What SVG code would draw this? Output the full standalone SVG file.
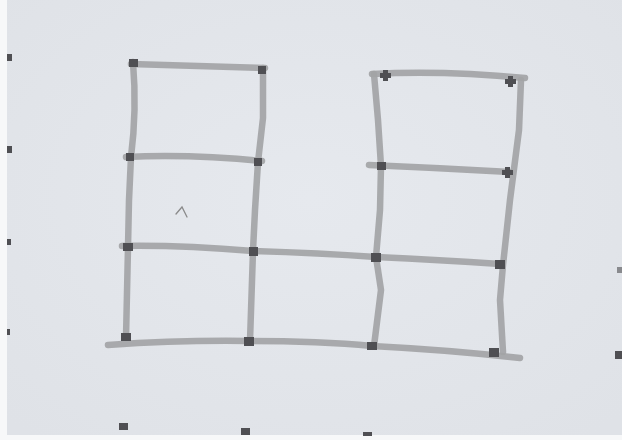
<svg xmlns="http://www.w3.org/2000/svg" width="622" height="440" viewBox="0 0 622 440">
  <defs>
    <style>
      .pen{fill:none;stroke:#a3a4a6;stroke-width:6.5;stroke-linecap:round;stroke-linejoin:round;opacity:0.92}
      .dot{fill:#505052}
      .mark{fill:none;stroke:#8a8a8a;stroke-width:1.3;stroke-linecap:round}
    </style>
    <filter id="soft" x="-20%" y="-20%" width="140%" height="140%">
      <feGaussianBlur stdDeviation="0.6"/>
    </filter>
    <radialGradient id="bg" cx="0.5" cy="0.45" r="0.7">
      <stop offset="0" stop-color="#e6e9ee"/>
      <stop offset="1" stop-color="#dfe2e7"/>
    </radialGradient>
  </defs>
  <rect width="622" height="440" fill="url(#bg)"/>
  <rect x="0" y="0" width="7" height="440" fill="#f7f8f9"/>
  <rect x="0" y="435" width="622" height="5" fill="#f7f8f9"/>

  <g id="connectors" filter="url(#soft)">
    <path class="pen" d="M131,64 Q200,66 265,68"/>
    <path class="pen" d="M133,62 Q137,110 131,157 L129,200 L128,247 L126,338"/>
    <path class="pen" d="M263,68 L263,118 L258,162 L255,210 L253,251 L250,341"/>
    <path class="pen" d="M126,157 Q190,154 262,161"/>
    <path class="pen" d="M122,246 Q180,245 253,251 Q320,253 376,257 Q440,260 500,264"/>
    <path class="pen" d="M108,345 Q180,340 249,341 Q320,341 372,346 Q450,350 520,358"/>
    <path class="pen" d="M372,74 Q440,70 525,78"/>
    <path class="pen" d="M374,74 L378,120 L381,166 L380,210 L376,257 L381,290 L374,346"/>
    <path class="pen" d="M521,80 L519,130 L510,200 L503,265 L500,300 L503,352"/>
    <path class="pen" d="M369,165 Q440,168 510,172"/>
  </g>

  <g id="left-structure" filter="url(#soft)">
    <g id="n-l1"><rect class="dot" x="129" y="59" width="9" height="8"/></g>
    <g id="n-l2"><rect class="dot" x="258" y="66" width="8" height="8"/></g>
    <g id="n-l3"><rect class="dot" x="126" y="153" width="8" height="8"/></g>
    <g id="n-l4"><rect class="dot" x="254" y="158" width="8" height="8"/></g>
    <g id="n-l5"><rect class="dot" x="123" y="243" width="10" height="8"/></g>
    <g id="n-l6"><rect class="dot" x="249" y="247" width="9" height="9"/></g>
    <g id="n-l7"><rect class="dot" x="121" y="333" width="10" height="8"/></g>
    <g id="n-l8"><rect class="dot" x="244" y="337" width="10" height="9"/></g>
  </g>
  <g id="right-structure" filter="url(#soft)">
    <g id="n-r1"><path class="dot" d="M383,70h5v3h3v5h-3v3h-5v-3h-3v-5h3z"/></g>
    <g id="n-r2"><path class="dot" d="M508,76h5v3h3v5h-3v3h-5v-3h-3v-5h3z"/></g>
    <g id="n-r3"><rect class="dot" x="377" y="162" width="9" height="8"/></g>
    <g id="n-r4"><path class="dot" d="M505,167h5v3h3v5h-3v3h-5v-3h-3v-5h3z"/></g>
    <g id="n-r5"><rect class="dot" x="371" y="253" width="10" height="9"/></g>
    <g id="n-r6"><rect class="dot" x="495" y="260" width="10" height="9"/></g>
    <g id="n-r7"><rect class="dot" x="367" y="342" width="10" height="8"/></g>
    <g id="n-r8"><rect class="dot" x="489" y="348" width="10" height="9"/></g>
  </g>
  <g id="paper-dots" filter="url(#soft)">
    <rect class="dot" x="7" y="54" width="5" height="7"/>
    <rect class="dot" x="7" y="146" width="5" height="7"/>
    <rect class="dot" x="7" y="239" width="4" height="6"/>
    <rect class="dot" x="7" y="329" width="3" height="6"/>
    <rect class="dot" x="119" y="423" width="9" height="7"/>
    <rect class="dot" x="241" y="428" width="9" height="7"/>
    <rect class="dot" x="363" y="432" width="9" height="4"/>
    <rect class="dot" x="617" y="267" width="5" height="6" opacity="0.6"/>
    <rect class="dot" x="615" y="351" width="7" height="8"/>
  </g>
  <path class="mark" d="M176,214 L182,207 L187,217"/>
</svg>
